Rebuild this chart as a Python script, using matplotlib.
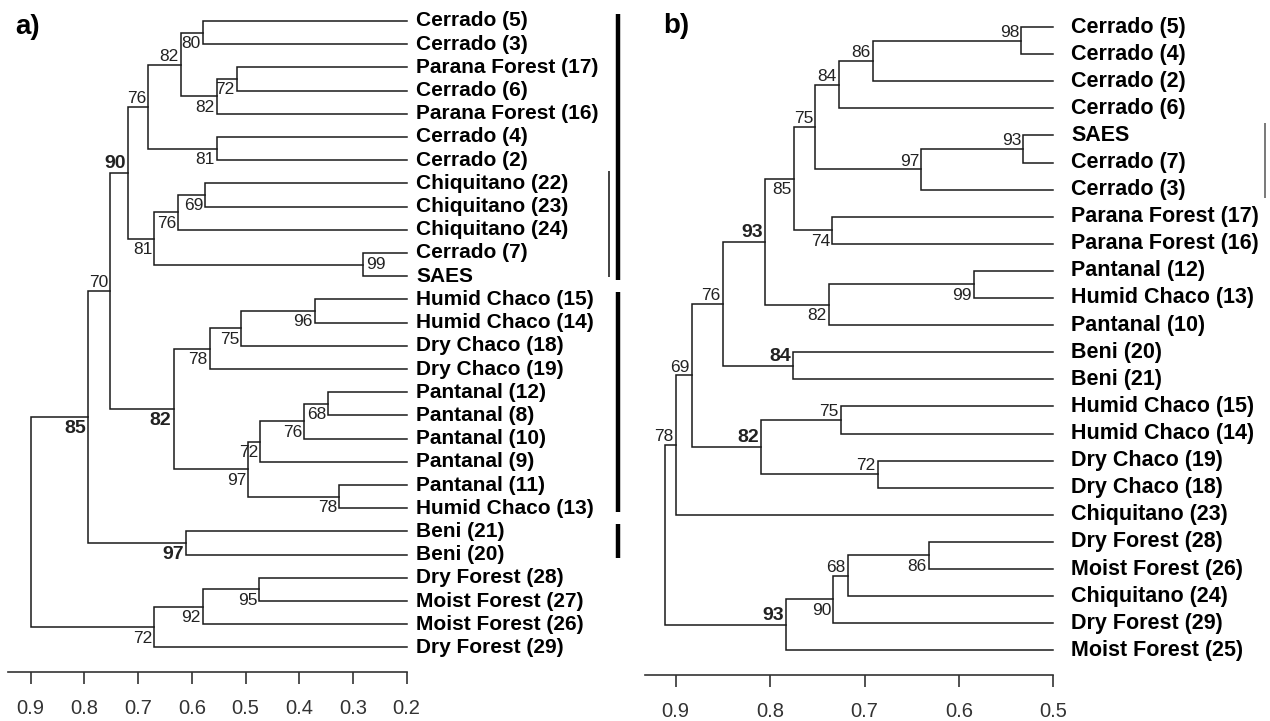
import matplotlib.pyplot as plt
from matplotlib.transforms import blended_transform_factory

plt.rcParams['font.family'] = ['Liberation Sans', 'DejaVu Sans']

W, H = 1270, 721

# ---------------- panel a data ----------------
a_leaves = ['Cerrado (5)', 'Cerrado (3)', 'Parana Forest (17)', 'Cerrado (6)',
            'Parana Forest (16)', 'Cerrado (4)', 'Cerrado (2)', 'Chiquitano (22)',
            'Chiquitano (23)', 'Chiquitano (24)', 'Cerrado (7)', 'SAES',
            'Humid Chaco (15)', 'Humid Chaco (14)', 'Dry Chaco (18)', 'Dry Chaco (19)',
            'Pantanal (12)', 'Pantanal (8)', 'Pantanal (10)', 'Pantanal (9)',
            'Pantanal (11)', 'Humid Chaco (13)', 'Beni (21)', 'Beni (20)',
            'Dry Forest (28)', 'Moist Forest (27)', 'Moist Forest (26)', 'Dry Forest (29)']
# merges: node ids >= 28 refer to earlier merges
a_left = [0, 2, 29, 28, 5, 31, 7, 34, 10, 35, 33, 12, 39, 40, 16, 42, 43, 20, 44, 41, 38, 22, 48, 24, 51, 52, 50]
a_right = [1, 3, 4, 30, 6, 32, 8, 9, 11, 36, 37, 13, 14, 15, 17, 18, 19, 21, 45, 46, 47, 23, 49, 25, 26, 27, 53]
a_height = [0.579, 0.516, 0.553, 0.620, 0.554, 0.681, 0.575, 0.625, 0.281, 0.670, 0.719,
            0.371, 0.508, 0.567, 0.346, 0.391, 0.473, 0.325, 0.495, 0.634, 0.752,
            0.611, 0.793, 0.474, 0.579, 0.670, 0.900]
a_support = [80, 72, 82, 82, 81, 76, 69, 76, 99, 81, 90, 96, 75, 78, 68, 76, 72, 78, 97, 82, 70,
             97, 85, 95, 92, 72, None]
a_bold = [0, 0, 0, 0, 0, 0, 0, 0, 0, 0, 1, 0, 0, 0, 0, 0, 0, 0, 0, 1, 0, 1, 1, 0, 0, 0, 0]
a_leaf_height = 0.2
a_ticks = [0.9, 0.8, 0.7, 0.6, 0.5, 0.4, 0.3, 0.2]
a_groups = [(0, 11), (12, 21), (22, 23)]
a_subgroups = [(7, 11)]

# ---------------- panel b data ----------------
b_leaves = ['Cerrado (5)', 'Cerrado (4)', 'Cerrado (2)', 'Cerrado (6)', 'SAES', 'Cerrado (7)',
            'Cerrado (3)', 'Parana Forest (17)', 'Parana Forest (16)', 'Pantanal (12)',
            'Humid Chaco (13)', 'Pantanal (10)', 'Beni (20)', 'Beni (21)', 'Humid Chaco (15)',
            'Humid Chaco (14)', 'Dry Chaco (19)', 'Dry Chaco (18)', 'Chiquitano (23)',
            'Dry Forest (28)', 'Moist Forest (26)', 'Chiquitano (24)', 'Dry Forest (29)',
            'Moist Forest (25)']
b_left = [0, 24, 25, 4, 27, 26, 7, 29, 9, 32, 31, 12, 34, 14, 16, 37, 36, 40, 19, 42, 43, 44, 41]
b_right = [1, 2, 3, 5, 6, 28, 8, 30, 10, 11, 33, 13, 35, 15, 17, 38, 39, 18, 20, 21, 22, 23, 45]
b_height = [0.534, 0.691, 0.727, 0.532, 0.640, 0.752, 0.734, 0.775, 0.584, 0.738, 0.805,
            0.776, 0.850, 0.725, 0.686, 0.810, 0.883, 0.900, 0.632, 0.718, 0.733, 0.783, 0.911]
b_support = [98, 86, 84, 93, 97, 75, 74, 85, 99, 82, 93, 84, 76, 75, 72, 82, 69, 78, 86, 68, 90, 93, None]
b_bold = [0, 0, 0, 0, 0, 0, 0, 0, 0, 0, 1, 1, 0, 0, 0, 1, 0, 0, 0, 0, 0, 1, 0]
b_leaf_height = 0.5
b_ticks = [0.9, 0.8, 0.7, 0.6, 0.5]
b_subgroups = [(4, 6)]

# label placement (style): 'top' above node, 'low' below node, 'in' right of node
a_place = ['low', 'low', 'low', 'top', 'low', 'top', 'low', 'low', 'in', 'low', 'top',
           'low', 'low', 'low', 'low', 'low', 'low', 'low', 'low', 'low', 'top',
           'low', 'low', 'low', 'low', 'low', None]
b_place = ['top', 'top', 'top', 'top', 'top', 'top', 'low', 'low', 'low', 'low', 'top',
           'top', 'top', 'top', 'top', 'top', 'top', 'top', 'low', 'top', 'low', 'top', None]

LINE = '#1a1a1a'


def make_axes(fig, x0, x1, y_top, y_bot):
    return fig.add_axes([x0 / W, (H - y_bot) / H, (x1 - x0) / W, (y_bot - y_top) / H])


def draw_tree(ax, leaves, left, right, height, support, bold, place, leaf_h, leaf_fs, leaf_dx):
    n = len(leaves)
    pos = {i: (leaf_h, i) for i in range(n)}
    for k, (l, r, h) in enumerate(zip(left, right, height)):
        xl, yl = pos[l]
        xr, yr = pos[r]
        ax.plot([xl, h, h, xr], [yl, yl, yr, yr], color=LINE, lw=1.1,
                solid_joinstyle='miter', clip_on=False)
        y = (yl + yr) / 2
        pos[n + k] = (h, y)
        s = support[k]
        if s is None:
            continue
        fw = 'bold' if bold[k] else 'normal'
        fs = 14 if bold[k] else 12.5
        if place[k] == 'top':
            ax.annotate(str(s), (h, y), xytext=(-1.5, 0.5), textcoords='offset points',
                        ha='right', va='bottom', fontsize=fs, fontweight=fw, color='#222222')
        elif place[k] == 'low':
            ax.annotate(str(s), (h, y), xytext=(-1.5, -2.5), textcoords='offset points',
                        ha='right', va='top', fontsize=fs, fontweight=fw, color='#222222')
        else:
            ax.annotate(str(s), (h, y), xytext=(2, 0), textcoords='offset points',
                        ha='left', va='center', fontsize=fs, fontweight=fw, color='#222222')
    for i, name in enumerate(leaves):
        ax.annotate(name, (leaf_h, i), xytext=(leaf_dx, 0), textcoords='offset points',
                    ha='left', va='center', fontsize=leaf_fs, fontweight='bold', color='black')


def style_axis(ax, ticks):
    for side in ['top', 'left', 'right']:
        ax.spines[side].set_visible(False)
    ax.spines['bottom'].set_color('#333333')
    ax.spines['bottom'].set_linewidth(1.2)
    ax.set_yticks([])
    ax.set_xticks(ticks)
    ax.set_xticklabels([f'{t:.1f}' for t in ticks])
    ax.tick_params(axis='x', direction='out', length=8.5, width=1.2, colors='#333333',
                   labelsize=14.5, pad=11)
    ax.patch.set_alpha(0)


fig = plt.figure(figsize=(W / 100, H / 100), dpi=100)
fig.patch.set_facecolor('white')

# panel a: 0.9 at x=30.7 px, 53.7 px per 0.1 ; leaves at 21 + 23.2*i px
ax_a = make_axes(fig, 8, 406.6, 0, 672)
ax_a.set_xlim(0.9 + (30.7 - 8) / 537, 0.2)
ax_a.set_ylim((672 - 21) / 23.2, -21 / 23.2)
draw_tree(ax_a, a_leaves, a_left, a_right, a_height, a_support, a_bold, a_place,
          a_leaf_height, 15, 7)
style_axis(ax_a, a_ticks)

tr_a = blended_transform_factory(ax_a.transAxes, ax_a.transData)
for g0, g1 in a_groups:
    ax_a.plot([1.530, 1.530], [g0 - 0.3, g1 + 0.15], color='black', lw=3.2,
              transform=tr_a, clip_on=False, solid_capstyle='butt')
for g0, g1 in a_subgroups:
    ax_a.plot([1.509, 1.509], [g0 - 0.55, g1 + 0.05], color='#333333', lw=1.3,
              transform=tr_a, clip_on=False, solid_capstyle='butt')

# panel b: 0.9 at x=675.7 px, 94.4 px per 0.1 ; leaves at 27 + 27.1*i px
ax_b = make_axes(fig, 645, 1053.3, 0, 675)
ax_b.set_xlim(0.9 + (675.7 - 645) / 944, 0.5)
ax_b.set_ylim((675 - 27) / 27.1, -27 / 27.1)
draw_tree(ax_b, b_leaves, b_left, b_right, b_height, b_support, b_bold, b_place,
          b_leaf_height, 15.5, 13)
style_axis(ax_b, b_ticks)

tr_b = blended_transform_factory(ax_b.transAxes, ax_b.transData)
for g0, g1 in b_subgroups:
    ax_b.plot([1.5185, 1.5185], [g0 - 0.45, g1 + 0.3], color='#555555', lw=1.1,
              transform=tr_b, clip_on=False, solid_capstyle='butt')

fig.text(15 / W, 1 - 27 / H, 'a)', fontsize=20, fontweight='bold', ha='left', va='center')
fig.text(663 / W, 1 - 26 / H, 'b)', fontsize=20, fontweight='bold', ha='left', va='center')

fig.savefig('out.png', dpi=100, facecolor='white')
